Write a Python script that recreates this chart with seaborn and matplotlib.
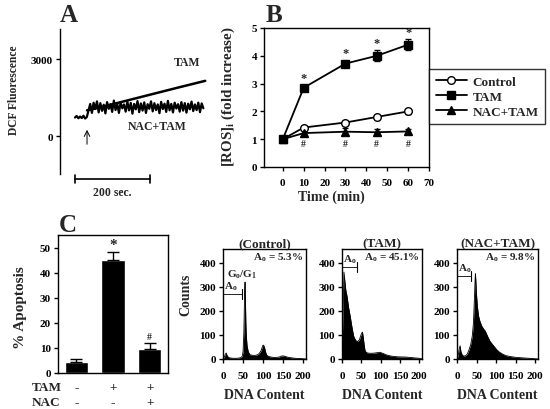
import numpy as np
import pandas as pd
import matplotlib
matplotlib.use("Agg")
import matplotlib.pyplot as plt
import matplotlib.transforms as mtransforms
import seaborn as sns

# ---- panel A: DCF trace (sampled every 4.5 s) ----
trace_step = 4.5
nac_trace = [720, 780, 690, 760, 700, 790, 680, 740,
             1000, 1250, 900, 1300, 1050, 1350, 920, 1280, 980, 1220,
             880, 1320, 1060, 1240, 940, 1380, 1010, 1260, 900, 1300,
             1080, 1230, 950, 1340, 1000, 1290, 870, 1250, 1040, 1360,
             930, 1270, 990, 1310, 900, 1240, 1060, 1350, 960, 1280,
             1010, 1230, 890, 1330, 1050, 1260, 940, 1370, 1000, 1250,
             920, 1300, 1070, 1240, 950, 1320, 990, 1280, 910, 1260,
             1040, 1340, 970, 1230, 1010, 1300, 930, 1270, 1080]
tam_trace_t = [32, 67, 130, 200, 270, 347]
tam_trace_v = [1000, 1120, 1350, 1610, 1870, 2150]
arrow_t = 32

# ---- panel B: ROS time course ----
time_min = [0, 10, 30, 45, 60]
ros_control = [1.0, 1.42, 1.6, 1.8, 2.0]
ros_control_err = [0.03, 0.06, 0.07, 0.08, 0.1]
ros_tam = [1.0, 2.85, 3.72, 4.0, 4.4]
ros_tam_err = [0.03, 0.08, 0.1, 0.2, 0.2]
ros_nac = [1.0, 1.22, 1.27, 1.25, 1.28]
ros_nac_err = [0.03, 0.12, 0.12, 0.1, 0.08]

# ---- panel C: apoptosis ----
apop_groups = ["ctrl", "tam", "nac_tam"]
apop_vals = [4.5, 45.0, 9.7]
apop_err = [1.2, 3.3, 2.4]
tam_signs = ["-", "+", "+"]
nac_signs = ["-", "-", "+"]

# ---- DNA content histograms ----
ctrl_x = [0, 3, 6, 8, 10, 13, 16, 20, 25, 30, 35, 40, 45, 48, 50, 52, 54, 55, 56, 57,
          58, 60, 63, 67, 75, 80, 85, 90, 95, 98, 100, 102, 104, 106, 108, 110, 115, 120,
          130, 140, 145, 150, 155, 160, 170, 180, 190, 200, 207]
ctrl_y = [0, 8, 20, 25, 15, 8, 5, 4, 3, 3, 3, 4, 6, 12, 30, 110, 280, 320, 240, 150,
          100, 55, 30, 18, 15, 15, 17, 22, 35, 50, 58, 55, 45, 30, 20, 14, 10, 8,
          6, 8, 12, 13, 11, 8, 5, 3, 2, 1, 0]
tam_x = [0, 3, 5, 7, 10, 13, 17, 21, 25, 30, 35, 40, 45, 48, 51, 53, 55, 58, 60, 64,
         70, 80, 90, 98, 105, 115, 125, 132, 145, 166, 185, 200, 207]
tam_y = [40, 200, 362, 330, 285, 262, 215, 180, 140, 96, 78, 72, 80, 95, 108, 112, 90, 50, 33, 26,
         24, 24, 26, 28, 24, 17, 13, 11, 9, 8, 5, 3, 0]
nac_x = [0, 3, 6, 8, 10, 14, 18, 22, 26, 30, 35, 39, 42, 44, 46, 47, 48, 50, 52, 55,
         58, 63, 68, 72, 78, 84, 90, 96, 102, 109, 117, 125, 137, 150, 165, 183, 200, 207]
nac_y = [0, 15, 45, 55, 30, 15, 12, 14, 20, 35, 60, 95, 150, 230, 320, 355, 330, 265, 220, 180,
         160, 138, 125, 117, 95, 75, 62, 50, 38, 28, 20, 14, 10, 7, 5, 3, 1, 0]
hist_titles = ["(Control)", "(TAM)", "(NAC+TAM)"]
hist_ao = ["5.3%", "45.1%", "9.8%"]
ao_bracket_y = [270, 383, 345]
ao_bracket_end = [48, 38, 37]

sns.set_style("ticks")
plt.rcParams["font.family"] = ["Liberation Serif", "DejaVu Serif"]
plt.rcParams["font.weight"] = "bold"
plt.rcParams["axes.labelweight"] = "bold"
plt.rcParams["axes.titleweight"] = "bold"
plt.rcParams["mathtext.fontset"] = "custom"
plt.rcParams["mathtext.rm"] = "Liberation Serif:bold"
plt.rcParams["mathtext.it"] = "Liberation Serif:bold"
plt.rcParams["mathtext.bf"] = "Liberation Serif:bold"
plt.rcParams["mathtext.default"] = "rm"
plt.rcParams["axes.edgecolor"] = "black"
plt.rcParams["axes.linewidth"] = 1.0
plt.rcParams["xtick.color"] = "black"
plt.rcParams["ytick.color"] = "black"

W, H = 550, 410
fig = plt.figure(figsize=(W / 100, H / 100), dpi=100)


def px_axes(x0, y0, x1, y1):
    return fig.add_axes([x0 / W, 1 - y1 / H, (x1 - x0) / W, (y1 - y0) / H])


tick_kw = dict(labelsize=8, width=1, length=3, direction="out", pad=2)

# ================= A =================
ax_a = px_axes(60, 30, 212, 175)
t_nac = np.arange(len(nac_trace)) * trace_step
df_a = pd.DataFrame({"t": t_nac, "v": nac_trace})
sns.lineplot(data=df_a, x="t", y="v", ax=ax_a, color="black", lw=1.6)
ax_a.plot(tam_trace_t, tam_trace_v, color="black", lw=1.8)
ax_a.set_xlim(-40, 365)
ax_a.set_ylim(-1480, 4169)
for s in ["top", "right", "bottom"]:
    ax_a.spines[s].set_visible(False)
ax_a.set_xticks([])
ax_a.set_yticks([0, 3000])
ax_a.tick_params(axis="y", **tick_kw)
ax_a.set_xlabel("")
ax_a.set_ylabel("DCF Fluorescence", fontsize=8.3)
ax_a.yaxis.set_label_coords(-0.263, 0.586)
ax_a.text(298, 2883, "TAM", fontsize=8.5, ha="center", va="center")
ax_a.text(218, 390, "NAC+TAM", fontsize=8.5, ha="center", va="center")
ax_a.annotate("", xy=(arrow_t, 350), xytext=(arrow_t, -430),
              arrowprops=dict(arrowstyle="->", lw=0.7, color="black"))
bar_y = -1675
ax_a.plot([0, 200], [bar_y, bar_y], color="black", lw=1.2, clip_on=False)
for tx in [0, 200]:
    ax_a.plot([tx, tx], [bar_y - 160, bar_y + 160], color="black", lw=1.2, clip_on=False)
ax_a.text(100, -2200, "200 sec.", fontsize=8.5, ha="center", va="center")
fig.text(69 / W, 1 - 15 / H, "A", fontsize=18, fontweight="bold", ha="center", va="center")

# ================= B =================
ax_b = px_axes(264, 29, 429, 168)
series = [("Control", ros_control, ros_control_err, "o", "white"),
          ("TAM", ros_tam, ros_tam_err, "s", "black"),
          ("NAC+TAM", ros_nac, ros_nac_err, "^", "black")]
handles = []
for name, vals, err, mk, fc in series:
    cont = ax_b.errorbar(time_min, vals, yerr=err, color="black", lw=1.3, marker=mk, ms=5.5,
                         mfc=fc, mec="black", mew=1, capsize=2, elinewidth=0.8, label=name,
                         zorder=3)
    handles.append(cont[0])
for t, v, e in zip(time_min[1:], ros_tam[1:], ros_tam_err[1:]):
    ax_b.text(t, v + e + 0.05, "*", fontsize=9, ha="center", va="bottom")
for t in time_min[1:]:
    ax_b.text(t, 0.85, "#", fontsize=7, ha="center", va="center")
ax_b.set_xlim(-9, 70)
ax_b.set_ylim(0, 5)
ax_b.set_xticks([0, 10, 20, 30, 40, 50, 60, 70])
ax_b.set_yticks([0, 1, 2, 3, 4, 5])
ax_b.tick_params(**tick_kw)
ax_b.tick_params(axis="x", pad=5)
ax_b.set_xlabel("Time (min)", fontsize=10)
ax_b.xaxis.set_label_coords(0.406, -0.165)
ax_b.set_ylabel("[ROS]$_i$ (fold increase)", fontsize=10.8)
ax_b.yaxis.set_label_coords(-0.164, 0.51)
leg = ax_b.legend(handles=handles, labels=[s[0] for s in series],
                  loc="upper left", bbox_to_anchor=(1.0, 0.705), borderaxespad=0,
                  frameon=True, fancybox=False, edgecolor="black", fontsize=9.5,
                  handlelength=2.4, handletextpad=0.4, labelspacing=0.2, borderpad=0.5)
leg.get_frame().set_linewidth(1.0)
fig.text(274 / W, 1 - 15 / H, "B", fontsize=18, fontweight="bold", ha="center", va="center")

# ================= C =================
ax_c = px_axes(58, 236, 168, 374)
df_c = pd.DataFrame({"group": apop_groups, "val": apop_vals})
sns.barplot(data=df_c, x="group", y="val", ax=ax_c, color="black", width=0.63,
            errorbar=None, saturation=1)
ax_c.errorbar(range(len(apop_vals)), apop_vals,
              yerr=[np.zeros(len(apop_err)), apop_err], fmt="none",
              ecolor="black", elinewidth=1, capsize=4, capthick=1)
ax_c.text(1, apop_vals[1] + apop_err[1] + 0.5, "*", fontsize=11, ha="center", va="bottom")
ax_c.text(2, apop_vals[2] + apop_err[2] + 0.5, "#", fontsize=7, ha="center", va="bottom")
ax_c.set_xlim(-0.5, 2.5)
ax_c.set_ylim(0, 55)
ax_c.set_yticks([0, 10, 20, 30, 40, 50])
ax_c.set_xticks([])
ax_c.set_xlabel("")
ax_c.tick_params(axis="y", **tick_kw)
ax_c.set_ylabel("% Apoptosis", fontsize=11)
ax_c.yaxis.set_label_coords(-0.285, 0.478)
trans_c = mtransforms.blended_transform_factory(ax_c.transData, ax_c.transAxes)
for i, (ts, ns) in enumerate(zip(tam_signs, nac_signs)):
    ax_c.text(i, -0.10, ts, transform=trans_c, fontsize=9.5, ha="center", va="center")
    ax_c.text(i, -0.21, ns, transform=trans_c, fontsize=9.5, ha="center", va="center")
ax_c.text(-0.236, -0.10, "TAM", transform=ax_c.transAxes, fontsize=9.5, ha="left", va="center")
ax_c.text(-0.236, -0.21, "NAC", transform=ax_c.transAxes, fontsize=9.5, ha="left", va="center")
fig.text(68 / W, 1 - 226 / H, "C", fontsize=18, fontweight="bold", ha="center", va="center")

# ================= histograms =================
hist_boxes = [(223, 250, 306, 360), (342, 250, 422, 360), (457, 250, 538, 360)]
hist_data = [(ctrl_x, ctrl_y), (tam_x, tam_y), (nac_x, nac_y)]
for k, (box, (hx, hy)) in enumerate(zip(hist_boxes, hist_data)):
    ax = px_axes(*box)
    df_h = pd.DataFrame({"x": hx, "y": hy})
    sns.lineplot(data=df_h, x="x", y="y", ax=ax, color="black", lw=0.6)
    ax.fill_between(hx, hy, color="black", lw=0)
    ax.set_xlim(0, 207)
    ax.set_ylim(0, 458)
    ax.set_xticks([0, 50, 100, 150, 200])
    ax.set_yticks([0, 100, 200, 300, 400])
    ax.tick_params(**tick_kw)
    ax.tick_params(axis="x", pad=6)
    ax.set_xlabel("DNA Content", fontsize=10)
    ax.xaxis.set_label_coords(0.5, -0.26)
    if k == 0:
        ax.set_ylabel("Counts", fontsize=10)
        ax.yaxis.set_label_coords(-0.373, 0.59)
    else:
        ax.set_ylabel("")
    ax.set_title(hist_titles[k], fontsize=9.5, pad=2)
    ax.text(0.97, 425, "A$_o$ = " + hist_ao[k], transform=mtransforms.blended_transform_factory(
        ax.transAxes, ax.transData), fontsize=8, ha="right", va="center")
    by = ao_bracket_y[k]
    be = ao_bracket_end[k]
    ax.plot([0, be], [by, by], color="black", lw=0.6)
    ax.plot([be, be], [by - 22, by + 22], color="black", lw=0.8)
    ax.text(3, by + 8, "A$_o$", fontsize=8, ha="left", va="bottom")
    if k == 0:
        ax.text(48, 354, "G$_o$/G$_1$", fontsize=8, ha="center", va="center")

fig.savefig("out.png", dpi=100)
